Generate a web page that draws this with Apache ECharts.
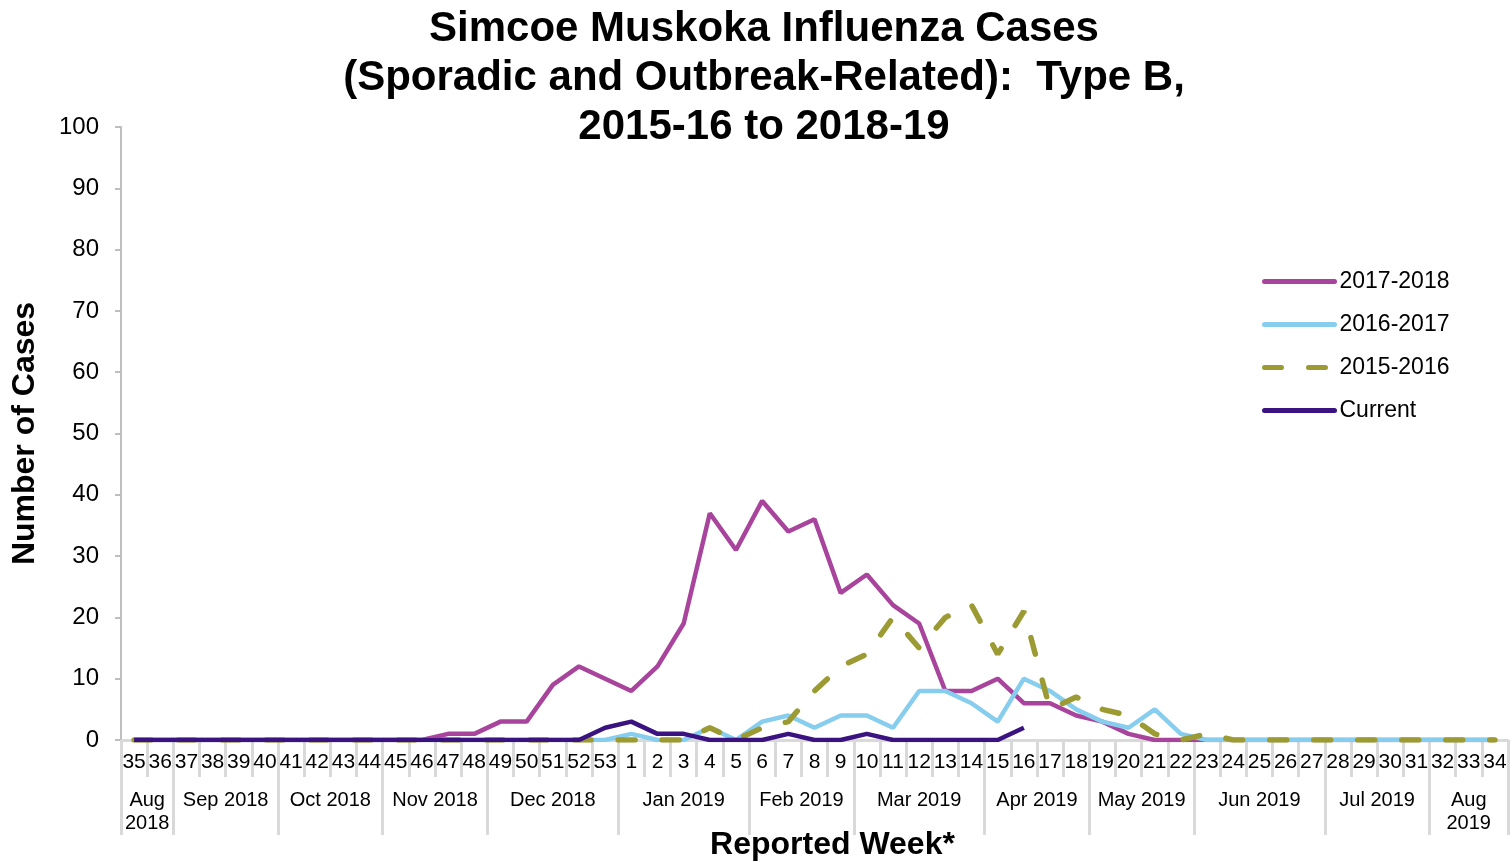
<!DOCTYPE html>
<html>
<head>
<meta charset="utf-8">
<script src="https://cdn.jsdelivr.net/npm/echarts@6/dist/echarts.min.js"></script>
<style>
html,body{margin:0;padding:0;background:#fff;}
#chart{width:1512px;height:862px;}
</style>
</head>
<body>
<div id="chart"></div>
<script>
const weeks = ['35','36','37','38','39','40','41','42','43','44','45','46','47','48','49','50','51','52','53',
  '1','2','3','4','5','6','7','8','9','10','11','12','13','14','15','16','17','18','19','20','21','22',
  '23','24','25','26','27','28','29','30','31','32','33','34'];

const s2017_2018 = [0,0,0,0,0,0,0,0,0,0,0,0,1,1,3,3,9,12,10,
  8,12,19,37,31,39,34,36,24,27,22,19,8,8,10,6,6,4,3,1,0,0,
  0,0,0,0,0,0,0,0,0,0,0,0];
const s2016_2017 = [0,0,0,0,0,0,0,0,0,0,0,0,0,0,0,0,0,0,0,
  1,0,0,2,0,3,4,2,4,4,2,8,8,6,3,10,8,5,3,2,5,1,
  0,0,0,0,0,0,0,0,0,0,0,0];
const s2015_2016 = [0,0,0,0,0,0,0,0,0,0,0,0,0,0,0,0,0,0,0,
  0,0,0,2,0,2,3,8,12,14,20,15,20,22,14,21,5,7,5,4,1,0,
  1,0,0,0,0,0,0,0,0,0,0,0];
const sCurrent = [0,0,0,0,0,0,0,0,0,0,0,0,0,0,0,0,0,0,2,
  3,1,1,0,0,0,1,0,0,1,0,0,0,0,0,2,null,null,null,null,null,null,
  null,null,null,null,null,null,null,null,null,null,null,null];

const monthNames = ['Aug\n2018','Sep 2018','Oct 2018','Nov 2018','Dec 2018','Jan 2019','Feb 2019',
  'Mar 2019','Apr 2019','May 2019','Jun 2019','Jul 2019','Aug\n2019'];
const monthWeeks = [2,4,4,4,5,5,4,5,4,4,5,4,3];

const yTicks = {min:0, max:100, interval:10};

// half-week positions for the month axis (0, 0.5, 1, ... 53 in week units)
const halfCount = weeks.length * 2 + 1;
const monthSlots = new Array(halfCount).fill('');
const monthBoundaries = new Set();
let start = 0;
monthWeeks.forEach((n, i) => {
  monthBoundaries.add(start * 2);
  monthSlots[start * 2 + n] = monthNames[i];
  start += n;
});
monthBoundaries.add(start * 2);

const FONT = '"Liberation Sans", Arial, sans-serif';
const colors = {a:'#A9449D', b:'#87CDEE', c:'#9B9A33', d:'#3B1380'};

const chart = echarts.init(document.getElementById('chart'));
chart.setOption({
  animation: false,
  backgroundColor: '#ffffff',
  title: {
    text: 'Simcoe Muskoka Influenza Cases\n(Sporadic and Outbreak-Related):  Type B,\n2015-16 to 2018-19',
    left: 759,
    textAlign: 'center',
    top: 0,
    textStyle: {fontFamily: FONT, fontWeight: 'bold', fontSize: 42, lineHeight: 49, color: '#000'}
  },
  legend: {
    orient: 'vertical',
    left: 1257,
    top: 265,
    itemWidth: 70,
    itemHeight: 14,
    itemGap: 20,
    itemStyle: {opacity: 0},
    lineStyle: {width: 5, cap: 'round'},
    textStyle: {fontFamily: FONT, fontSize: 23, lineHeight: 23, color: '#000'},
    data: ['2017-2018','2016-2017','2015-2016','Current']
  },
  grid: {left: 121, right: 4, top: 127, bottom: 122, containLabel: false, outerBoundsMode: 'none'},
  xAxis: [{
    type: 'category',
    data: weeks,
    boundaryGap: true,
    axisLine: {lineStyle: {color: '#D9D9D9', width: 3}},
    axisTick: {show: true, interval: 0, length: 37, lineStyle: {color: '#D9D9D9', width: 3}},
    axisLabel: {interval: 0, hideOverlap: false, fontFamily: FONT, fontSize: 21, color: '#000', margin: 12}
  }, {
    type: 'category',
    data: monthSlots,
    boundaryGap: false,
    position: 'bottom',
    offset: 37,
    axisLine: {show: false},
    axisTick: {show: true, length: 58, interval: (idx) => monthBoundaries.has(idx), lineStyle: {color: '#D9D9D9', width: 3}},
    axisLabel: {interval: 0, hideOverlap: false, fontFamily: FONT, fontSize: 20, lineHeight: 23, color: '#000', margin: 12},
    name: 'Reported Week*',
    nameLocation: 'middle',
    nameGap: 52,
    nameMoveOverlap: false,
    nameTextStyle: {fontFamily: FONT, fontWeight: 'bold', fontSize: 32, color: '#000', padding: [0, 0, 0, 36]}
  }],
  yAxis: {
    type: 'value',
    min: yTicks.min, max: yTicks.max, interval: yTicks.interval,
    axisLine: {show: true, lineStyle: {color: '#BFBFBF', width: 2}},
    axisTick: {show: true, length: 6, lineStyle: {color: '#BFBFBF', width: 2}},
    splitLine: {show: false},
    axisLabel: {fontFamily: FONT, fontSize: 24, color: '#000', margin: 22},
    name: 'Number of Cases',
    nameLocation: 'middle',
    nameRotate: 90,
    nameGap: 80,
    nameMoveOverlap: false,
    nameTextStyle: {fontFamily: FONT, fontWeight: 'bold', fontSize: 32, color: '#000'}
  },
  series: [{
    name: '2017-2018', type: 'line', data: s2017_2018, symbol: 'none',
    lineStyle: {color: colors.a, width: 4.5}, itemStyle: {color: colors.a}
  }, {
    name: '2016-2017', type: 'line', data: s2016_2017, symbol: 'none',
    lineStyle: {color: colors.b, width: 4.5}, itemStyle: {color: colors.b}
  }, {
    name: '2015-2016', type: 'line', data: s2015_2016, symbol: 'none',
    lineStyle: {color: colors.c, width: 5.5, type: [17, 27], cap: 'round'}, itemStyle: {color: colors.c}
  }, {
    name: 'Current', type: 'line', data: sCurrent, symbol: 'none',
    lineStyle: {color: colors.d, width: 4.5}, itemStyle: {color: colors.d}
  }]
});
</script>
</body>
</html>
